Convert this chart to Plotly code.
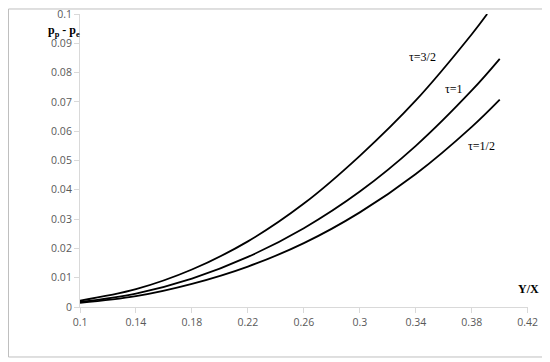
import plotly.graph_objects as go

# Data
x_tau15 = [0.10, 0.14, 0.18, 0.22, 0.26, 0.30, 0.34, 0.38, 0.391]
y_tau15 = [0.0022, 0.0061, 0.0128, 0.0224, 0.0353, 0.0516, 0.0705, 0.0931, 0.1000]

x_tau1 = [0.10, 0.14, 0.18, 0.22, 0.26, 0.30, 0.34, 0.38, 0.40]
y_tau1 = [0.0017, 0.0046, 0.0097, 0.0171, 0.0269, 0.0394, 0.0550, 0.0739, 0.0847]

x_tau05 = [0.10, 0.14, 0.18, 0.22, 0.26, 0.30, 0.34, 0.38, 0.40]
y_tau05 = [0.0014, 0.0037, 0.0079, 0.0138, 0.0218, 0.0323, 0.0454, 0.0615, 0.0708]

x_ticks = [0.1, 0.14, 0.18, 0.22, 0.26, 0.3, 0.34, 0.38, 0.42]
x_tick_labels = ["0.1", "0.14", "0.18", "0.22", "0.26", "0.3", "0.34", "0.38", "0.42"]
y_ticks = [0, 0.01, 0.02, 0.03, 0.04, 0.05, 0.06, 0.07, 0.08, 0.09, 0.1]
y_tick_labels = ["0", "0.01", "0.02", "0.03", "0.04", "0.05", "0.06", "0.07", "0.08", "0.09", "0.1"]

curve_labels = ["τ=3/2", "τ=1", "τ=1/2"]
label_x = [0.345, 0.367, 0.387]
label_y = [0.0855, 0.0745, 0.0550]

fig = go.Figure()
for xs, ys in [(x_tau15, y_tau15), (x_tau1, y_tau1), (x_tau05, y_tau05)]:
    fig.add_trace(go.Scatter(x=xs, y=ys, mode="lines",
                             line=dict(color="black", width=1.8, shape="spline", smoothing=1.0),
                             showlegend=False, hoverinfo="skip"))

for t, lx, ly in zip(curve_labels, label_x, label_y):
    fig.add_annotation(x=lx, y=ly, text=t, showarrow=False,
                       font=dict(family="Liberation Serif", size=12, color="black"))

axis_color = "#d9d9d9"
tick_font = dict(family="Open Sans", size=10.5, color="#595959")

# the page body keeps its default 8px margin, so the figure is sized to fit
fig.update_layout(
    width=542, height=354,
    margin=dict(l=72, r=22, t=6, b=55),
    paper_bgcolor="white", plot_bgcolor="white",
    xaxis=dict(range=[0.1, 0.4202], tickvals=x_ticks, ticktext=x_tick_labels,
               showgrid=False, zeroline=False, showline=True, linecolor=axis_color,
               linewidth=1, ticks="outside", ticklen=5, tickcolor=axis_color,
               tickfont=tick_font, automargin=False, ticklabeloverflow="allow"),
    yaxis=dict(range=[0, 0.10001], tickvals=y_ticks, ticktext=y_tick_labels,
               showgrid=False, zeroline=False, showline=True, linecolor=axis_color,
               linewidth=1, ticks="outside", ticklen=5, tickcolor=axis_color,
               tickfont=tick_font, automargin=False, ticklabeloverflow="allow"),
)

# axis titles placed like the reference
fig.add_annotation(xref="paper", yref="paper", x=0.0045, y=0.942,
                   xanchor="right", yanchor="middle",
                   text="<b>p<sub>p</sub> - p<sub>e</sub></b>", showarrow=False,
                   font=dict(family="Liberation Serif", size=12, color="black"))
fig.add_annotation(xref="paper", yref="paper", x=1.0, y=0.03,
                   text="<b>Y/X</b>", showarrow=False, xanchor="center",
                   font=dict(family="Liberation Serif", size=12, color="black"))

# outer frame
fig.add_shape(type="rect", xref="paper", yref="paper",
              x0=-0.1596, x1=1.0402, y0=-0.1706, y1=1.0171,
              line=dict(color="#bfbfbf", width=1))

fig.write_html("out.html", config={"displayModeBar": False})
